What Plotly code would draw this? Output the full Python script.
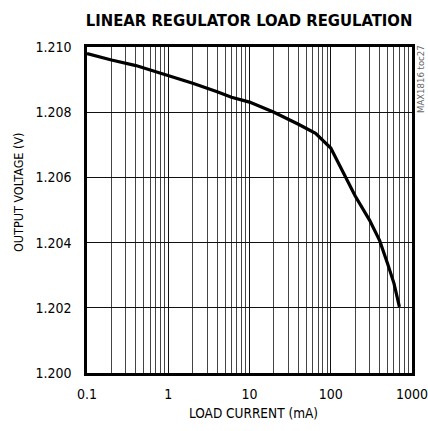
import plotly.graph_objects as go

current_ma = [0.1, 0.2, 0.4, 1, 2, 4, 6, 10, 20, 40, 65, 100, 150, 200, 300, 400, 500, 600, 700]
voltage_v = [1.20980, 1.20960, 1.20943, 1.20913, 1.20889, 1.20863, 1.20846, 1.20831, 1.20800,
             1.20763, 1.20735, 1.20690, 1.20602, 1.20543, 1.20469, 1.20406, 1.20336, 1.20275, 1.20203]

x_major = [0.1, 1, 10, 100, 1000]
x_major_text = ["0.1", "1", "10", "100", "1000"]
x_minor = [m * d for d in [0.1, 1, 10, 100] for m in range(2, 10)]
y_ticks = [1.200, 1.202, 1.204, 1.206, 1.208, 1.210]
y_text = ["1.200", "1.202", "1.204", "1.206", "1.208", "1.210"]

FONT = "DejaVu Sans Condensed, Liberation Sans Narrow, sans-serif"

fig = go.Figure()
fig.add_trace(go.Scatter(x=current_ma, y=voltage_v, mode="lines",
                         line=dict(color="black", width=3.2),
                         showlegend=False))

fig.update_layout(
    width=428, height=431,
    margin=dict(l=87, r=16, t=47, b=58, autoexpand=False),
    paper_bgcolor="white", plot_bgcolor="white",
    font=dict(family=FONT, size=14, color="black"),
    title=dict(text="<b>LINEAR REGULATOR LOAD REGULATION</b>",
               font=dict(family=FONT, size=16.5, color="black"),
               x=0.582, xanchor="center", y=0.953, yanchor="middle"),
)
fig.update_xaxes(
    type="log", range=[-1, 3], automargin=False,
    tickmode="array", tickvals=x_major, ticktext=x_major_text,
    showgrid=True, gridcolor="#111", gridwidth=1,
    minor=dict(tickmode="array", tickvals=x_minor, showgrid=True, gridcolor="#444", gridwidth=1, ticks=""),
    showline=True, linewidth=2.5, linecolor="black", mirror=True,
    ticks="", ticklen=0, ticklabelstandoff=6, ticklabeloverflow="allow",
    tickfont=dict(family=FONT, size=14),
)
fig.update_yaxes(
    range=[1.200, 1.210], automargin=False,
    tickmode="array", tickvals=y_ticks, ticktext=y_text,
    showgrid=True, gridcolor="#111", gridwidth=1,
    showline=True, linewidth=2.5, linecolor="black", mirror=True,
    ticks="", zeroline=False, ticklabelstandoff=10, ticklabeloverflow="allow",
    tickfont=dict(family=FONT, size=14),
)
fig.add_annotation(text="LOAD CURRENT (mA)", xref="paper", yref="paper", x=0.5, y=0,
                   xanchor="center", yanchor="middle", xshift=4, yshift=-40, showarrow=False,
                   font=dict(family=FONT, size=13.5))
fig.add_annotation(text="OUTPUT VOLTAGE (V)", xref="paper", yref="paper", x=0, y=0.5,
                   xanchor="center", yanchor="middle", xshift=-69, yshift=18, textangle=-90, showarrow=False,
                   font=dict(family=FONT, size=12.5))
fig.add_annotation(text="MAX1816 toc27", xref="paper", yref="paper", x=1.0, y=1.0,
                   xanchor="center", yanchor="top", xshift=8, yshift=4, textangle=-90, showarrow=False,
                   font=dict(family=FONT, size=9.5, color="#666"))

fig.write_html("out.html", config={"displayModeBar": False},
               post_script="document.body.style.margin='0px';document.body.style.overflow='hidden';")
